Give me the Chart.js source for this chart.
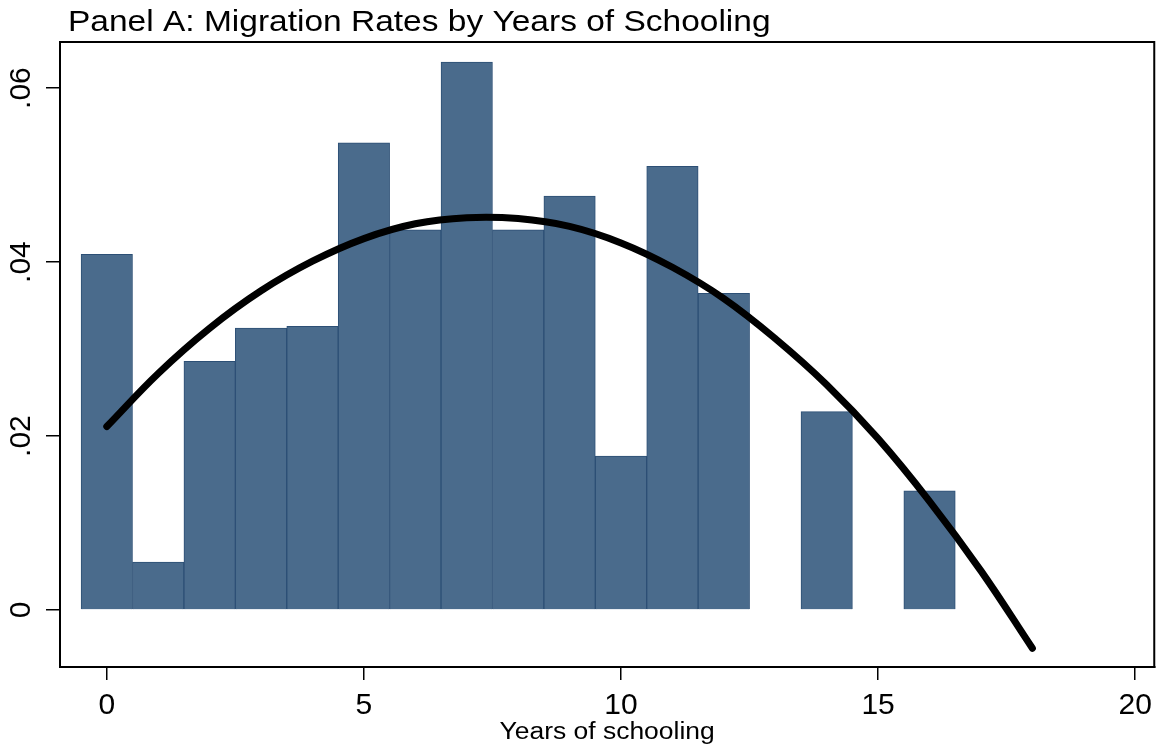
<!DOCTYPE html>
<html>
<head>
<meta charset="utf-8">
<script src="https://cdn.jsdelivr.net/npm/chart.js@4"></script>
<style>
  html, body { margin: 0; padding: 0; background: #fff; }
  #wrap { width: 1160px; height: 749px; }
</style>
</head>
<body>
<div id="wrap"><canvas id="chart" width="1160" height="749"></canvas></div>
<script>
const titleText = "Panel A: Migration Rates by Years of Schooling";
const xTitle = "Years of schooling";

// bars: years of schooling and migration rate
const years = [0, 1, 2, 3, 4, 5, 6, 7, 8, 9, 10, 11, 12, 14, 16];
const rates = [0.0409, 0.0055, 0.0286, 0.0324, 0.0326, 0.0537, 0.0437, 0.0630, 0.0437, 0.0476, 0.0177, 0.0510, 0.0364, 0.0228, 0.0137];

// fitted curve
const fitYears = [0, 1, 2, 3, 4, 5, 6, 7, 8, 9, 10, 11, 12, 13, 14, 15, 16, 17, 18];
const fitRates = [0.0211, 0.0272, 0.0324, 0.0367, 0.0401, 0.0427, 0.0444, 0.0451, 0.0450, 0.0441, 0.0422, 0.0394, 0.0358, 0.0312, 0.0259, 0.0197, 0.0125, 0.0045, -0.0044];

const xTicks = [0, 5, 10, 15, 20];
const yTicks = [0, 0.02, 0.04, 0.06];
const yTickLabels = ["0", ".02", ".04", ".06"];

const FONT = "'Liberation Sans', Arial, Helvetica, sans-serif";

// text in the reference is a bit wider than plain Arial
function wideText(ctx, text, x, y, stretch){
    ctx.save();
    ctx.translate(x, y);
    ctx.scale(stretch, 1);
    ctx.fillText(text, 0, 0);
    ctx.restore();
}

// title, frame, x title and rotated y labels
const extras = {
    id: "extras",
    afterDraw(chart){
        const ctx = chart.ctx;
        const area = chart.chartArea;
        ctx.save();
        ctx.strokeStyle = "#000";
        ctx.lineWidth = 2;
        ctx.strokeRect(area.left, area.top, area.right - area.left, area.bottom - area.top);

        ctx.fillStyle = "#000";
        ctx.font = "29px " + FONT;
        ctx.textAlign = "left";
        ctx.textBaseline = "alphabetic";
        wideText(ctx, titleText, 68, 31, 1.155);

        ctx.font = "23px " + FONT;
        ctx.textAlign = "center";
        wideText(ctx, xTitle, (area.left + area.right) / 2, 739, 1.15);

        const yScale = chart.scales.y;
        ctx.font = "30px " + FONT;
        ctx.textAlign = "center";
        ctx.textBaseline = "middle";
        yTicks.forEach((v, i) => {
            const py = yScale.getPixelForValue(v);
            ctx.save();
            ctx.translate(22, py);
            ctx.rotate(-Math.PI / 2);
            ctx.fillText(yTickLabels[i], 0, 0);
            ctx.restore();
        });
        ctx.restore();
    }
};

new Chart(document.getElementById("chart"), {
    data: {
        datasets: [
            {
                type: "line",
                data: fitYears.map((x, i) => ({x: x, y: fitRates[i]})),
                borderColor: "#000",
                borderWidth: 7,
                borderCapStyle: "round",
                borderJoinStyle: "round",
                pointRadius: 0,
                tension: 0.4,
                fill: false,
                order: 0
            },
            {
                type: "bar",
                data: years.map((x, i) => ({x: x, y: rates[i]})),
                backgroundColor: "#4a6b8c",
                borderColor: "#2c4f75",
                borderWidth: 1,
                barPercentage: 1,
                categoryPercentage: 1,
                order: 1
            }
        ]
    },
    options: {
        responsive: false,
        animation: false,
        layout: {padding: {top: 42, right: 5, left: 0, bottom: 0}},
        plugins: {
            legend: {display: false},
            tooltip: {enabled: false}
        },
        scales: {
            x: {
                type: "linear",
                offset: false,
                min: -0.91,
                max: 20.37,
                afterBuildTicks: s => { s.ticks = xTicks.map(v => ({value: v})); },
                afterFit: s => { s.height = 82; },
                grid: {offset: false, drawOnChartArea: false, drawTicks: true, tickLength: 13, color: "#000", lineWidth: 1.5},
                border: {display: true, color: "#000", width: 2},
                ticks: {color: "#000", font: {size: 30, family: FONT}, padding: 8, maxRotation: 0}
            },
            y: {
                type: "linear",
                min: -0.00655,
                max: 0.0653,
                afterBuildTicks: s => { s.ticks = yTicks.map(v => ({value: v})); },
                afterFit: s => { s.width = 60; },
                grid: {drawOnChartArea: false, drawTicks: true, tickLength: 14, color: "#000", lineWidth: 1.5},
                border: {display: true, color: "#000", width: 2},
                ticks: {display: false}
            }
        }
    },
    plugins: [extras]
});
</script>
</body>
</html>
